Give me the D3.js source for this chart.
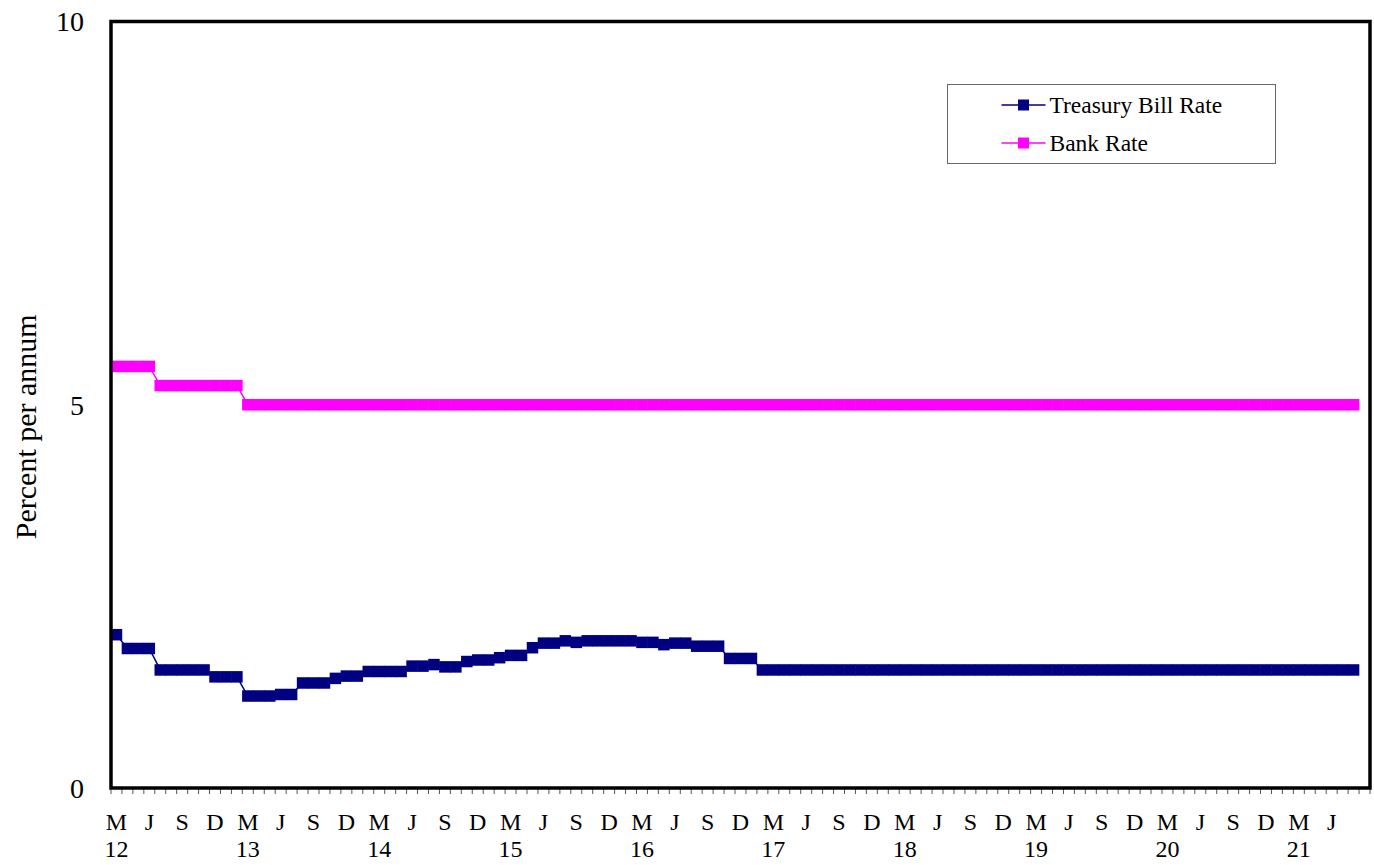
<!DOCTYPE html>
<html>
<head>
<meta charset="utf-8">
<script src="https://cdn.jsdelivr.net/npm/d3@7"></script>
<style>
  body { margin: 0; background: #fff; }
  text { font-family: "Liberation Serif", "Times New Roman", serif; fill: #000; }
</style>
</head>
<body>
<svg id="chart" width="1374" height="865"></svg>
<script>
// monthly, March 2012 onwards
const monthNames = ['J', 'F', 'M', 'A', 'M', 'J', 'J', 'A', 'S', 'O', 'N', 'D'];
const startYear = 2012, startMonth = 2, nCategories = 115;

// Treasury bill rate, % p.a. (Mar 2012 - Aug 2021)
const treasuryBill = [
  2.00, 1.82, 1.82, 1.82, 1.54, 1.54, 1.54, 1.54, 1.54, 1.45, 1.45, 1.45,
  1.20, 1.20, 1.20, 1.22, 1.22, 1.37, 1.37, 1.37, 1.43, 1.46, 1.46, 1.52,
  1.52, 1.52, 1.52, 1.59, 1.59, 1.61, 1.58, 1.58, 1.65, 1.67, 1.67, 1.70,
  1.73, 1.73, 1.83, 1.89, 1.89, 1.92, 1.90, 1.92, 1.92, 1.92, 1.92, 1.92,
  1.90, 1.90, 1.87, 1.89, 1.89, 1.85, 1.85, 1.85, 1.69, 1.69, 1.69, 1.54,
  1.54, 1.54, 1.54, 1.54, 1.54, 1.54, 1.54, 1.54, 1.54, 1.54, 1.54, 1.54,
  1.54, 1.54, 1.54, 1.54, 1.54, 1.54, 1.54, 1.54, 1.54, 1.54, 1.54, 1.54,
  1.54, 1.54, 1.54, 1.54, 1.54, 1.54, 1.54, 1.54, 1.54, 1.54, 1.54, 1.54,
  1.54, 1.54, 1.54, 1.54, 1.54, 1.54, 1.54, 1.54, 1.54, 1.54, 1.54, 1.54,
  1.54, 1.54, 1.54, 1.54, 1.54, 1.54
];

// Bank rate, % p.a.
const bankRate = [
  5.50, 5.50, 5.50, 5.50, 5.25, 5.25, 5.25, 5.25, 5.25, 5.25, 5.25, 5.25,
  5.00, 5.00, 5.00, 5.00, 5.00, 5.00, 5.00, 5.00, 5.00, 5.00, 5.00, 5.00,
  5.00, 5.00, 5.00, 5.00, 5.00, 5.00, 5.00, 5.00, 5.00, 5.00, 5.00, 5.00,
  5.00, 5.00, 5.00, 5.00, 5.00, 5.00, 5.00, 5.00, 5.00, 5.00, 5.00, 5.00,
  5.00, 5.00, 5.00, 5.00, 5.00, 5.00, 5.00, 5.00, 5.00, 5.00, 5.00, 5.00,
  5.00, 5.00, 5.00, 5.00, 5.00, 5.00, 5.00, 5.00, 5.00, 5.00, 5.00, 5.00,
  5.00, 5.00, 5.00, 5.00, 5.00, 5.00, 5.00, 5.00, 5.00, 5.00, 5.00, 5.00,
  5.00, 5.00, 5.00, 5.00, 5.00, 5.00, 5.00, 5.00, 5.00, 5.00, 5.00, 5.00,
  5.00, 5.00, 5.00, 5.00, 5.00, 5.00, 5.00, 5.00, 5.00, 5.00, 5.00, 5.00,
  5.00, 5.00, 5.00, 5.00, 5.00, 5.00
];

const yTicks = [0, 5, 10];

const series = [
  { name: 'Treasury Bill Rate', values: treasuryBill, color: '#000080' },
  { name: 'Bank Rate', values: bankRate, color: '#ff00ff' }
];

// category list: one entry per month
const categories = d3.range(nCategories).map(i => {
  const m = (startMonth + i) % 12;
  const yr = startYear + Math.floor((startMonth + i) / 12);
  return { key: i, month: monthNames[m], year: yr, m };
});

const svg = d3.select('#chart');
const plotLeft = 111, plotRight = 1370, plotTop = 21.5, plotBottom = 788;

const x = d3.scaleBand()
  .domain(categories.map(c => c.key))
  .range([plotLeft, plotRight])
  .padding(0);

const y = d3.scaleLinear()
  .domain([0, 10])
  .range([plotBottom, plotTop]);

// minor ticks at month boundaries
svg.append('g')
  .selectAll('line')
  .data(d3.range(nCategories + 1))
  .enter().append('line')
  .attr('x1', i => plotLeft + i * x.bandwidth())
  .attr('x2', i => plotLeft + i * x.bandwidth())
  .attr('y1', plotBottom)
  .attr('y2', plotBottom + 6)
  .attr('stroke', '#555')
  .attr('stroke-width', 1);

// quarterly month labels (only where data exists)
const labelled = categories.filter(c => c.key < treasuryBill.length && [2, 5, 8, 11].includes(c.m));
svg.append('g')
  .selectAll('text')
  .data(labelled)
  .enter().append('text')
  .attr('x', c => x(c.key) + x.bandwidth() / 2)
  .attr('y', 830)
  .attr('text-anchor', 'middle')
  .style('font-size', '24px')
  .text(c => c.month);

svg.append('g')
  .selectAll('text')
  .data(labelled.filter(c => c.m === 2))
  .enter().append('text')
  .attr('x', c => x(c.key) + x.bandwidth() / 2)
  .attr('y', 857)
  .attr('text-anchor', 'middle')
  .style('font-size', '24px')
  .text(c => String(c.year).slice(2));

// y tick labels
svg.append('g')
  .selectAll('text')
  .data(yTicks)
  .enter().append('text')
  .attr('x', 84)
  .attr('y', d => y(d))
  .attr('dy', '0.35em')
  .attr('text-anchor', 'end')
  .style('font-size', '28px')
  .text(d => d);

svg.append('text')
  .attr('transform', `translate(36,${(plotTop + plotBottom) / 2 + 22}) rotate(-90)`)
  .attr('text-anchor', 'middle')
  .style('font-size', '30px')
  .text('Percent per annum');

// series
const line = d3.line()
  .x((d, i) => x(i) + x.bandwidth() / 2)
  .y(d => y(d));

const ms = 11.5;
series.forEach(s => {
  svg.append('path')
    .datum(s.values)
    .attr('d', line)
    .attr('fill', 'none')
    .attr('stroke', s.color)
    .attr('stroke-width', 1.5);

  svg.append('g')
    .selectAll('rect')
    .data(s.values)
    .enter().append('rect')
    .attr('x', (d, i) => x(i) + x.bandwidth() / 2 - ms / 2)
    .attr('y', d => y(d) - ms / 2)
    .attr('width', ms)
    .attr('height', ms)
    .attr('fill', s.color);
});

// plot frame
svg.append('rect')
  .attr('x', plotLeft)
  .attr('y', plotTop)
  .attr('width', plotRight - plotLeft)
  .attr('height', plotBottom - plotTop)
  .attr('fill', 'none')
  .attr('stroke', '#000')
  .attr('stroke-width', 3.5);

// legend
const lg = svg.append('g').attr('transform', 'translate(947.5,84.5)');
lg.append('rect')
  .attr('width', 328)
  .attr('height', 79)
  .attr('fill', '#fff')
  .attr('stroke', '#666')
  .attr('stroke-width', 1);

series.forEach((s, i) => {
  const ly = 20.5 + i * 38;
  lg.append('line')
    .attr('x1', 54).attr('x2', 98)
    .attr('y1', ly).attr('y2', ly)
    .attr('stroke', s.color)
    .attr('stroke-width', 1.5);
  lg.append('rect')
    .attr('x', 76 - 5.5).attr('y', ly - 5.5)
    .attr('width', 11).attr('height', 11)
    .attr('fill', s.color);
  lg.append('text')
    .attr('x', 102)
    .attr('y', ly)
    .attr('dy', '0.35em')
    .style('font-size', '23.5px')
    .text(s.name);
});
</script>
</body>
</html>
